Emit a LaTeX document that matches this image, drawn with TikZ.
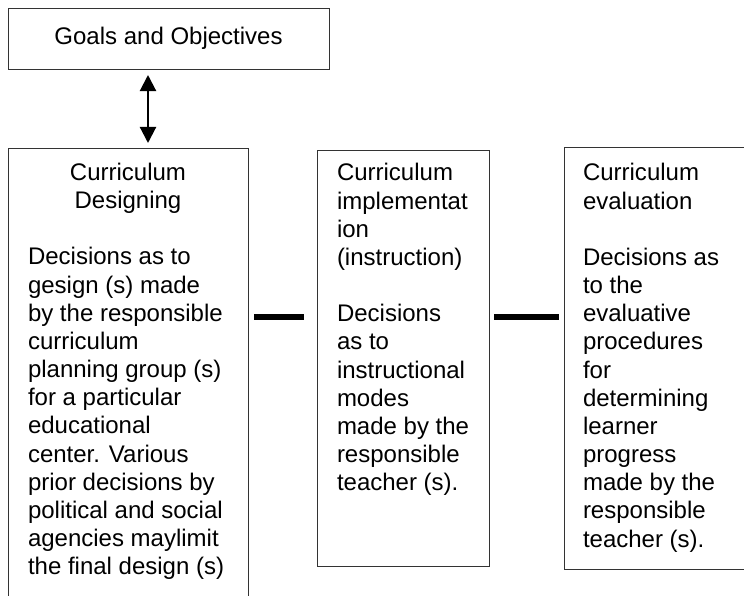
\documentclass[tikz,border=0pt]{standalone}
\usepackage{fontspec}
\setmainfont{Liberation Sans}
\usetikzlibrary{arrows.meta}

\begin{document}
\begin{tikzpicture}[x=0.025cm, y=-0.025cm,
	block/.style={draw=black!80, line width=0.7pt, anchor=north west, inner sep=0, outer sep=0},
	txt/.style={font=\fontsize{17.07pt}{20.03pt}\selectfont, inner sep=0, outer sep=0},
	link/.style={line width=3.8pt},
	twoway/.style={line width=1.5pt, {Triangle[length=4mm,width=4mm]}-{Triangle[length=4mm,width=4mm]}}]

\clip (0,0) rectangle (744,596);

% Goals
\node[block, txt, minimum width=8.025cm, minimum height=1.525cm] (goals) at (8,8) {Goals and Objectives};

% Stages
\node[block, minimum width=6cm, minimum height=11.8cm] (design) at (8,148) {};
\node[block, minimum width=4.3cm, minimum height=10.4cm] (impl) at (317,150) {};
\node[block, minimum width=5.15cm, minimum height=10.55cm] (eval) at (564,147) {};

% Texts
\node[txt, anchor=north, align=center] (designhead) at (128,163) {Curriculum\\Designing};
\node[txt, anchor=north west, align=left] (designbody) at (28,247.5) {Decisions as to\\gesign (s) made\\by the responsible\\curriculum\\planning group (s)\\for a particular\\educational\\center. Various\\prior decisions by\\political and social\\agencies maylimit\\the final design (s)};
\node[txt, anchor=north west, align=left] (impltext) at (337,163.5) {Curriculum\\implementat\\ion\\(instruction)\\[20.03pt]Decisions\\as to\\instructional\\modes\\made by the\\responsible\\teacher (s).};
\node[txt, anchor=north west, align=left] (evaltext) at (583,163.5) {Curriculum\\evaluation\\[20.03pt]Decisions as\\to the\\evaluative\\procedures\\for\\determining\\learner\\progress\\made by the\\responsible\\teacher (s).};

% Connections
\draw[twoway, shorten <=0.15cm, shorten >=0.125cm] (goals.south -| 148,0) -- (design.north -| 148,0);
\draw[link, shorten <=0.15cm, shorten >=0.325cm] (design.east |- 0,317) -- (impl.west |- 0,317);
\draw[link, shorten <=0.125cm, shorten >=0.125cm] (impl.east |- 0,317) -- (eval.west |- 0,317);
\end{tikzpicture}
\end{document}
